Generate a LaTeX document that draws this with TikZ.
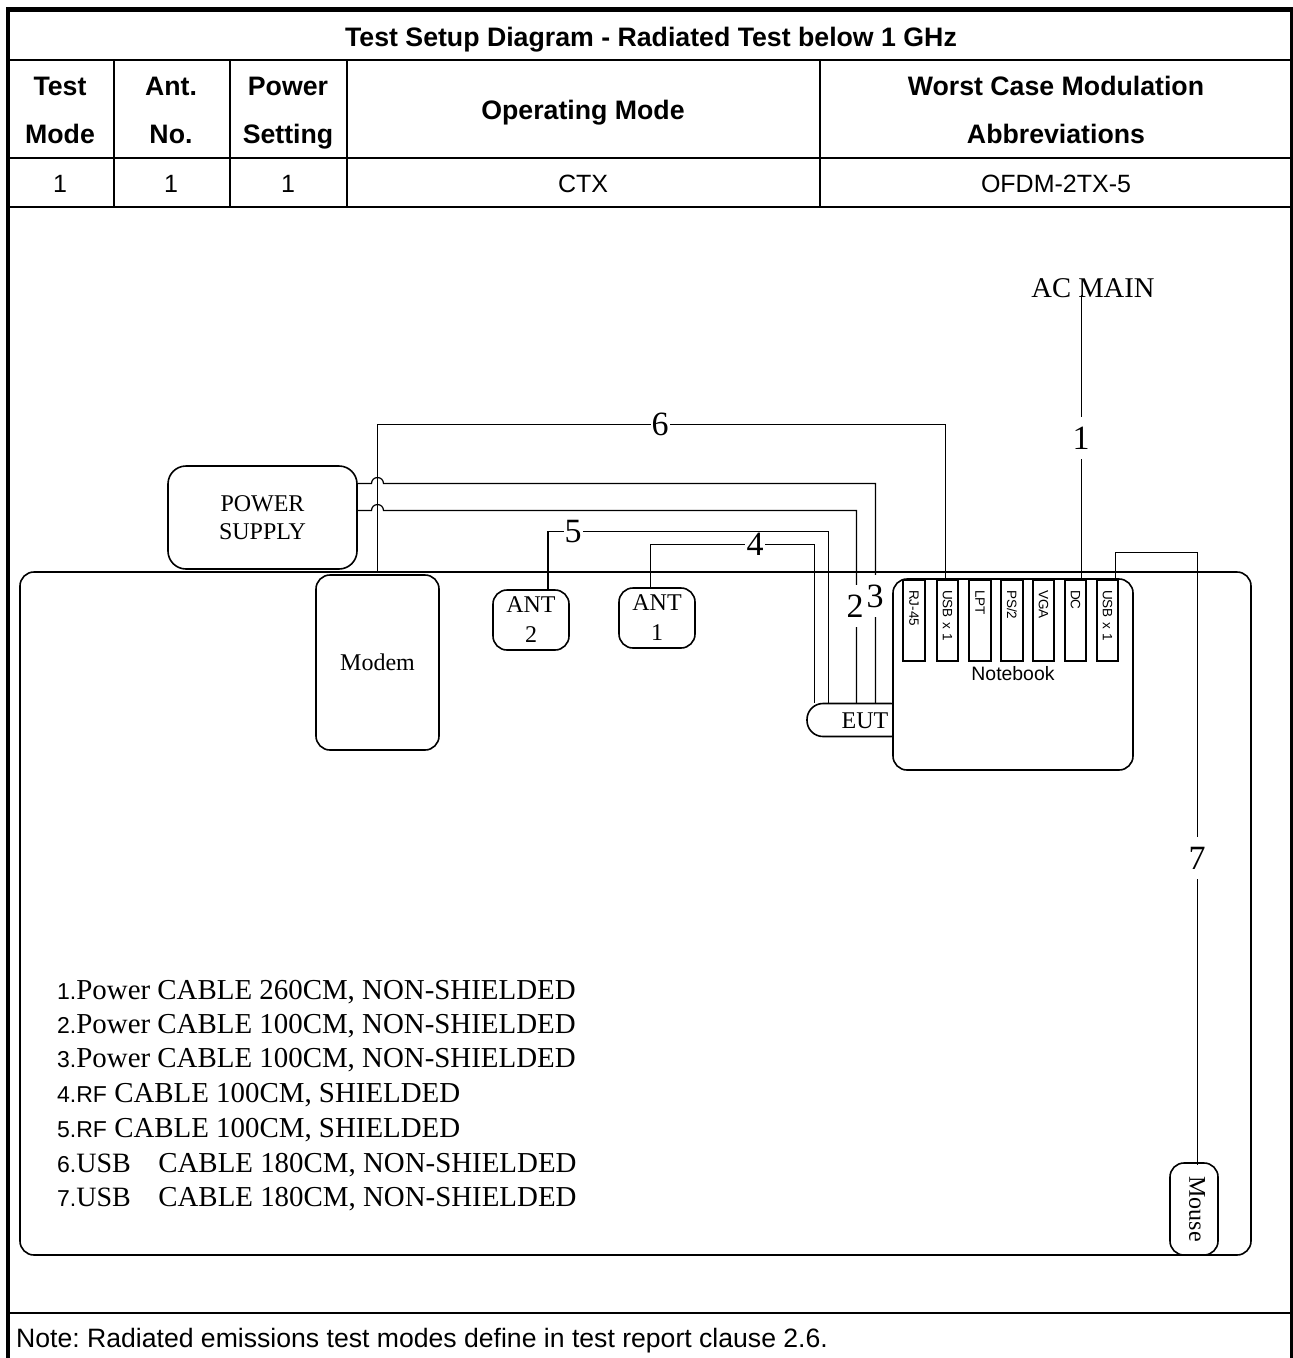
\documentclass[tikz,border=0pt]{standalone}
\usepackage{fontspec}
\setmainfont{Liberation Serif}
\newfontfamily\arialf{Liberation Sans}
\frenchspacing
\newcommand{\hdr}{\arialf\bfseries\fontsize{26.7}{27}\selectfont}
\newcommand{\cel}{\arialf\fontsize{25}{25}\selectfont}
\newcommand{\tms}[1]{\fontsize{#1}{#1}\selectfont}
\newcommand{\smallsans}[1]{{\arialf\fontsize{23}{23}\selectfont #1}}
\newcommand{\usbword}{{\tms{28}USB}\hspace{27.5pt}}
\tikzset{
  frameline/.style={line width=2.2pt,line cap=rect},
  frameborder/.style={line width=4.6pt},
  boxshape/.style={draw,line width=1.6pt,fill=white,rounded corners=#1,inner sep=0pt},
  boxshape/.default=14pt,
  cable/.style={draw,line width=1.2pt},
  numlabel/.style={fill=white,inner xsep=1pt,inner ysep=0pt,font=\tms{34}},
  vlabel/.style={numlabel,minimum height=42pt},
  hcell/.style={font=\hdr,anchor=base,inner sep=0pt},
  vcell/.style={font=\cel,anchor=base,inner sep=0pt},
  portbox/.style={draw,line width=1.6pt,fill=white,rotate=-90,minimum width=81pt,minimum height=21.5pt,
     text width=61pt,align=left,inner xsep=10pt,inner ysep=0pt,font=\arialf\fontsize{13.5}{14}\selectfont},
  legend/.style={anchor=base west,inner sep=0pt,font=\tms{28.9}},
}
\begin{document}
\begin{tikzpicture}[x=1pt,y=-1pt]
\useasboundingbox (0,0) rectangle (1293,1358);
\fill[white] (0,0) rectangle (1293,1358);
% table frame
\draw[frameborder] (8,1358) -- (8,9.5) -- (1292,9.5) -- (1292,1358);
\draw[frameline] (8,60) -- (1291,60);
\draw[frameline] (8,158) -- (1291,158);
\draw[frameline] (8,207) -- (1291,207);
\draw[frameline] (8,1313) -- (1291,1313);
\draw[frameline] (114,60) -- (114,207);
\draw[frameline] (230,60) -- (230,207);
\draw[frameline] (347,60) -- (347,207);
\draw[frameline] (820,60) -- (820,207);
% table text
\node[hcell] (title) at (651,46) {Test Setup Diagram - Radiated Test below 1 GHz};
\node[hcell] (h1a) at (60,95) {Test};
\node[hcell] (h1b) at (60,143) {Mode};
\node[hcell] (h2a) at (171,95) {Ant.};
\node[hcell] (h2b) at (171,143) {No.};
\node[hcell] (h3a) at (288,95) {Power};
\node[hcell] (h3b) at (288,143) {Setting};
\node[hcell] (h4) at (583,119) {Operating Mode};
\node[hcell] (h5a) at (1056,95) {Worst Case Modulation};
\node[hcell] (h5b) at (1056,143) {Abbreviations};
\node[vcell] (v1) at (60,192) {1};
\node[vcell] (v2) at (171,192) {1};
\node[vcell] (v3) at (288,192) {1};
\node[vcell] (v4) at (583,192) {CTX};
\node[vcell] (v5) at (1056,192) {OFDM-2TX-5};
\node[vcell,anchor=base west,font=\arialf\fontsize{26.6}{27}\selectfont] (note) at (16,1347) {Note: Radiated emissions test modes define in test report clause 2.6.};
% bench and boxes
\node[boxshape=14pt,fill=none,minimum width=1231pt,minimum height=683pt] (bench) at (635.5,913.5) {};
\node[boxshape=18pt,minimum width=189pt,minimum height=103pt,align=center,font=\tms{24}] (psu) at (262.5,517.5) {POWER\\[4pt]SUPPLY};
\node[boxshape=14pt,minimum width=123pt,minimum height=175pt,font=\tms{24}] (modem) at (377.5,662.5) {Modem};
\node[boxshape=14pt,minimum width=76pt,minimum height=60pt,align=center,font=\tms{24}] (ant2) at (531,620) {ANT\\[6pt]2};
\node[boxshape=14pt,minimum width=76pt,minimum height=60pt,align=center,font=\tms{24}] (ant1) at (657,618) {ANT\\[6pt]1};
\node[boxshape=16pt,minimum width=100pt,minimum height=33pt] (eut) at (857,720) {};
\node[font=\tms{24},inner sep=0pt] (euttext) at (865,721) {EUT};
\node[boxshape=14pt,minimum width=240pt,minimum height=191pt] (nb) at (1013,674.5) {};
\node[inner sep=0pt,font=\arialf\fontsize{19.4}{20}\selectfont] (nbtext) at (1013,674) {Notebook};
\node[portbox] (p1) at (914,620.5) {RJ-45};
\node[portbox] (p2) at (947.5,620.5) {USB x 1};
\node[portbox] (p3) at (980,620.5) {LPT};
\node[portbox] (p4) at (1012,620.5) {PS/2};
\node[portbox] (p5) at (1043.5,620.5) {VGA};
\node[portbox] (p6) at (1075.5,620.5) {DC};
\node[portbox] (p7) at (1107.5,620.5) {USB x 1};
\node[boxshape=14pt,minimum width=48pt,minimum height=92pt] (mouse) at (1194,1209) {};
\node[rotate=-90,inner sep=0pt,font=\tms{24}] (mousetext) at (1197,1209) {Mouse};
\node[inner sep=0pt,font=\tms{28.6}] (acmain) at (1093,288) {AC MAIN};
% number under the cable that runs past it
\node[numlabel] (n4) at (755,544) {4};
% cables
\coordinate (c1top) at (1081.5,295);
\coordinate (c6s) at (377.5,572);
\coordinate (c3a) at (357,483.5);
\coordinate (c2a) at (357,510.5);
\draw[cable] (c1top) -- (c1top |- p6.west);
\draw[cable] (c6s) -- (377.5,424.5) -| (945.5,579);
\draw[cable] (c3a) -- (371.5,483.5) arc[start angle=180,end angle=360,radius=6] -- (875.5,483.5) -- (875.5,703);
\draw[cable] (c2a) -- (371.5,510.5) arc[start angle=180,end angle=360,radius=6] -- (856.5,510.5) -- (856.5,703);
\draw[cable] (548,590) -- (548,531.5) -- (828.5,531.5) -- (828.5,703);
\draw[cable] (650.5,588) -- (650.5,544.5) -- (745,544.5) (765,544.5) -- (814.5,544.5) -- (814.5,703);
\draw[cable] (1115.5,580) -- (1115.5,552.5) -| (1197.5,1165);
% numbers
\node[vlabel] (n1) at (1081,438) {1};
\node[vlabel] (n2) at (855,606) {2};
\node[vlabel] (n3) at (875,596) {3};
\node[numlabel] (n5) at (573,532) {5};
\node[numlabel] (n6) at (660,424) {6};
\node[vlabel] (n7) at (1197,858) {7};
% legend
\node[legend] (l1) at (57,999) {\smallsans{1.}Power CABLE 260CM, NON-SHIELDED};
\node[legend] (l2) at (57,1033) {\smallsans{2.}Power CABLE 100CM, NON-SHIELDED};
\node[legend] (l3) at (57,1067) {\smallsans{3.}Power CABLE 100CM, NON-SHIELDED};
\node[legend] (l4) at (57,1102) {\smallsans{4.RF} CABLE 100CM, SHIELDED};
\node[legend] (l5) at (57,1137) {\smallsans{5.RF} CABLE 100CM, SHIELDED};
\node[legend] (l6) at (57,1172) {\smallsans{6.}\usbword CABLE 180CM, NON-SHIELDED};
\node[legend] (l7) at (57,1206) {\smallsans{7.}\usbword CABLE 180CM, NON-SHIELDED};
\end{tikzpicture}
\end{document}
